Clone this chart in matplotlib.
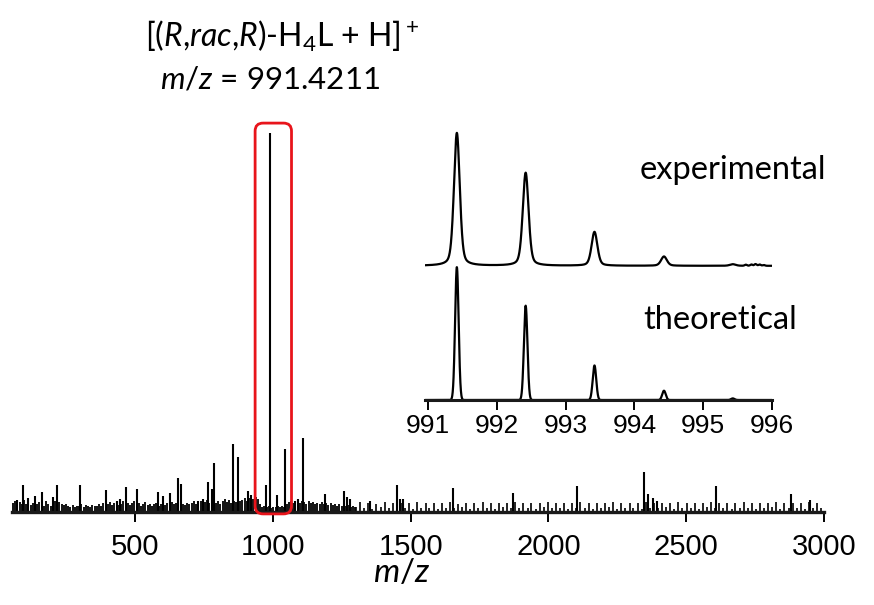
import matplotlib
matplotlib.use("Agg")
import matplotlib.pyplot as plt
from matplotlib.patches import FancyBboxPatch
from matplotlib.transforms import IdentityTransform
import numpy as np

# ---- main spectrum: labelled peaks (m/z, % of base peak) ----
peak_mz = [71, 93, 112, 138, 162, 203, 216, 300, 395, 434, 446, 468, 506,
           585, 602, 627, 655, 667, 729, 747, 765, 779, 788, 856, 874, 910,
           921, 975, 991.4, 1014, 1046, 1081, 1092, 1110, 1189, 1259, 1268,
           1280, 1353, 1450, 1461, 1472, 1653, 1870, 2103, 2348, 2361, 2378,
           2393, 2607, 2880, 2949]
peak_int = [3.2, 7.0, 3.8, 4.2, 5.3, 4.0, 7.0, 7.0, 5.8, 2.9, 3.3, 6.6, 6.1,
            5.3, 4.2, 5.1, 9.0, 7.3, 2.9, 3.5, 7.9, 6.0, 13.0, 18.0, 14.5, 5.5,
            4.6, 7.0, 100.0, 4.5, 16.5, 3.0, 3.4, 19.5, 4.7, 5.5, 4.0,
            3.5, 3.0, 7.0, 3.5, 3.5, 6.3, 5.0, 6.8, 10.5, 4.8, 3.8,
            3.0, 6.8, 4.8, 3.1]

# ---- dense background below m/z 1300 ----
noise_mz = [58, 66, 74, 82, 90, 98, 106, 114, 122, 130, 138, 146, 154,
            162, 170, 178, 186, 194, 202, 210, 218, 226, 234, 242, 250, 258,
            266, 274, 282, 290, 298, 306, 314, 322, 330, 338, 346, 354, 362,
            370, 378, 386, 394, 402, 410, 418, 426, 434, 442, 450, 458, 466,
            474, 482, 490, 498, 506, 514, 522, 530, 538, 546, 554, 562, 570,
            578, 586, 594, 602, 610, 618, 626, 634, 642, 650, 658, 666, 674,
            682, 690, 698, 706, 714, 722, 730, 738, 746, 754, 762, 770, 778,
            786, 794, 802, 810, 818, 826, 834, 842, 850, 858, 866, 874, 882,
            890, 898, 906, 914, 922, 930, 938, 946, 954, 962, 970, 978, 986,
            994, 1002, 1010, 1018, 1026, 1034, 1042, 1050, 1058, 1066, 1074, 1082, 1090,
            1098, 1106, 1114, 1122, 1130, 1138, 1146, 1154, 1162, 1170, 1178, 1186, 1194,
            1202, 1210, 1218, 1226, 1234, 1242, 1250, 1258, 1266, 1274, 1282, 1290, 1298]
noise_int = [2.4, 3.0, 1.8, 2.6, 2.2, 3.1, 2.0, 2.8, 1.9, 2.5, 3.2, 2.1, 2.7,
             2.3, 1.7, 2.9, 2.2, 1.6, 2.4, 3.0, 1.9, 2.6, 2.0, 1.8, 2.2, 1.6,
             1.4, 1.9, 1.3, 1.7, 1.5, 2.0, 1.4, 1.8, 1.6, 1.3, 1.9, 1.5, 1.7,
             2.1, 1.6, 2.4, 1.5, 2.0, 2.6, 1.8, 2.3, 2.7, 1.9, 2.2, 2.8, 2.0,
             2.5, 1.8, 2.3, 2.9, 2.0, 2.4, 1.7, 2.1, 2.6, 1.8, 2.2, 1.6, 2.0,
             2.4, 1.7, 2.2, 2.8, 1.9, 2.5, 2.0, 2.7, 2.1, 2.4, 1.8, 3.0, 2.2,
             1.9, 2.5, 2.0, 2.3, 2.8, 2.1, 2.6, 3.0, 2.2, 2.7, 3.2, 2.4, 2.9,
             3.3, 2.5, 3.0, 2.2, 2.8, 3.4, 2.6, 3.1, 2.4, 3.0, 2.7, 3.3, 2.9,
             3.2, 3.8, 3.0, 3.6, 4.0, 3.4, 3.9, 3.5, 2.0, 1.4, 1.6, 1.2, 1.5,
             1.1, 1.4, 1.2, 1.6, 1.3, 1.5, 1.2, 2.0, 2.6, 3.0, 2.4, 2.8, 3.2,
             2.5, 3.0, 2.7, 2.2, 2.9, 2.4, 2.6, 2.0, 2.5, 2.2, 2.7, 2.0, 2.4,
             1.9, 2.3, 1.8, 2.1, 1.7, 2.2, 1.6, 2.0, 1.5, 1.8, 1.4, 1.6, 1.3]

# ---- regular small peaks above m/z 1300 ----
comb_mz = [1302, 1317, 1332, 1346, 1361, 1376, 1391, 1406, 1420, 1435,
           1450, 1465, 1480, 1494, 1509, 1524, 1539, 1554, 1568, 1583,
           1598, 1613, 1628, 1642, 1657, 1672, 1687, 1702, 1716, 1731,
           1746, 1761, 1776, 1790, 1805, 1820, 1835, 1850, 1864, 1879,
           1894, 1909, 1924, 1938, 1953, 1968, 1983, 1998, 2012, 2027,
           2042, 2057, 2072, 2086, 2101, 2116, 2131, 2146, 2160, 2175,
           2190, 2205, 2220, 2234, 2249, 2264, 2279, 2294, 2308, 2323,
           2338, 2353, 2368, 2382, 2397, 2412, 2427, 2442, 2456, 2471,
           2486, 2501, 2516, 2530, 2545, 2560, 2575, 2590, 2604, 2619,
           2634, 2649, 2664, 2678, 2693, 2708, 2723, 2738, 2752, 2767,
           2782, 2797, 2812, 2826, 2841, 2856, 2871, 2886, 2900, 2915,
           2930, 2945, 2960, 2974, 2989]
comb_int = [1.4, 2.6, 1.0, 2.4, 0.9, 2.2, 1.2, 2.6, 1.0, 2.3,
            1.2, 2.5, 1.0, 2.4, 0.9, 2.6, 1.1, 2.3, 1.0, 2.5,
            0.9, 2.4, 1.1, 2.6, 1.0, 2.2, 1.2, 2.5, 0.9, 2.4,
            1.0, 2.6, 1.1, 2.3, 0.9, 2.5, 1.2, 2.4, 1.0, 2.6,
            1.1, 2.3, 1.0, 2.5, 0.9, 2.4, 1.2, 2.6, 1.0, 2.3,
            1.1, 2.5, 0.9, 2.4, 1.0, 2.6, 1.1, 2.3, 0.9, 2.5,
            1.0, 2.4, 1.2, 2.6, 0.9, 2.3, 1.1, 2.5, 1.0, 2.4,
            0.9, 2.6, 1.1, 2.3, 1.0, 2.5, 1.2, 2.4, 0.9, 2.6,
            1.0, 2.3, 1.1, 2.5, 0.9, 2.4, 1.2, 2.6, 1.0, 2.3,
            1.1, 2.5, 0.9, 2.4, 1.0, 2.6, 1.1, 2.3, 0.9, 2.5,
            1.0, 2.4, 1.2, 2.6, 0.9, 2.3, 1.1, 2.5, 1.0, 2.4,
            0.9, 2.6, 1.1, 2.3, 1.0]

main_ticks = [500, 1000, 1500, 2000, 2500, 3000]
box_mz = (936, 1068)          # highlighted region
box_int = (-0.5, 102.6)

# ---- inset isotope pattern ----
iso_mz = [991.42, 992.42, 993.42, 994.43, 995.43]
exp_int = [1.0, 0.70, 0.255, 0.07, 0.012]
theo_int = [1.0, 0.71, 0.26, 0.07, 0.012]
exp_noise_mz = [995.62, 995.70, 995.76, 995.82, 995.88]
exp_noise_int = [0.008, 0.010, 0.013, 0.010, 0.006]
inset_ticks = [991, 992, 993, 994, 995, 996]

W, H = 874, 605
fig = plt.figure(figsize=(W / 100, H / 100), dpi=100)

tickfont = "Liberation Sans"
labfont = "Lato"
plt.rcParams["mathtext.fontset"] = "custom"
plt.rcParams["mathtext.rm"] = labfont
plt.rcParams["mathtext.it"] = labfont + ":italic"

ax = fig.add_axes([12.2 / W, (H - 512) / H, 812 / W, 398 / H])
ax.vlines(noise_mz, 0, noise_int, color="black", lw=1.3)
ax.vlines(comb_mz, 0, comb_int, color="black", lw=1.2)
ax.vlines(peak_mz, 0, peak_int, color="black", lw=1.5)
ax.set_xlim(55, 3000)
ax.set_ylim(0, 105)
for s in ["left", "right", "top"]:
    ax.spines[s].set_visible(False)
ax.spines["bottom"].set_linewidth(2.4)
ax.spines["bottom"].set_color("#1a1a1a")
ax.set_yticks([])
ax.set_xticks(main_ticks)
ax.tick_params(axis="x", direction="out", length=7, width=1.4, pad=8,
               labelsize=21)
for lab in ax.get_xticklabels():
    lab.set_fontfamily(tickfont)
ax.set_xlabel("$m/z$", fontsize=24, family=labfont)
ax.xaxis.set_label_coords(0.48, -0.115)

# red rounded box drawn in pixel space
(x0, y0) = ax.transData.transform((box_mz[0], box_int[0]))
(x1, y1) = ax.transData.transform((box_mz[1], box_int[1]))
box = FancyBboxPatch((x0, y0), x1 - x0, y1 - y0,
                     boxstyle="round,pad=0,rounding_size=8",
                     transform=IdentityTransform(), fill=False,
                     edgecolor="#e8141b", lw=2.0, zorder=5)
fig.patches.append(box)

# ---- inset ----
ins = fig.add_axes([425.2 / W, (H - 400) / H, 346.8 / W, 279 / H])
ins.set_facecolor("none")
xs = np.linspace(990.92, 996.0, 4000)


def pvoigt(x, centers, heights, fwhm, eta):
    y = np.zeros_like(x)
    s = fwhm / 2.3548
    g = fwhm / 2
    for c, h in zip(centers, heights):
        gau = np.exp(-0.5 * ((x - c) / s) ** 2)
        lor = g ** 2 / ((x - c) ** 2 + g ** 2)
        y += h * ((1 - eta) * gau + eta * lor)
    return y


exp_off = 1.01
y_exp = pvoigt(xs, iso_mz, exp_int, 0.10, 0.35) + \
    pvoigt(xs, exp_noise_mz, exp_noise_int, 0.04, 0.0)
y_theo = pvoigt(xs, iso_mz, theo_int, 0.06, 0.0)
ins.plot(xs, y_exp + exp_off, color="black", lw=1.6)
ins.plot(xs, y_theo, color="black", lw=1.6)
ins.set_xlim(990.96, 996.0)
ins.set_ylim(0, 2.1)
for s in ["left", "right", "top"]:
    ins.spines[s].set_visible(False)
ins.spines["bottom"].set_linewidth(2.2)
ins.spines["bottom"].set_color("#1a1a1a")
ins.set_yticks([])
ins.set_xticks(inset_ticks)
ins.tick_params(axis="x", direction="out", length=7, width=1.4, pad=3,
                labelsize=19)
for lab in ins.get_xticklabels():
    lab.set_fontfamily(tickfont)

ins.text(0.619, 0.824, "experimental", transform=ins.transAxes, fontsize=23.5,
         family=labfont, ha="left", va="center")
ins.text(0.628, 0.287, "theoretical", transform=ins.transAxes, fontsize=23.5,
         family=labfont, ha="left", va="center")

fig.text(282 / W, 1 - 36 / H,
         r"[($\mathit{R}$,$\mathit{rac}$,$\mathit{R}$)-H$_4$L + H$]^+$",
         fontsize=23, family=labfont, ha="center", va="center")
fig.text(270 / W, 1 - 80 / H, r"$\mathit{m/z}$ = 991.4211",
         fontsize=22.5, family=labfont, ha="center", va="center")

fig.savefig("out.png", dpi=100)
